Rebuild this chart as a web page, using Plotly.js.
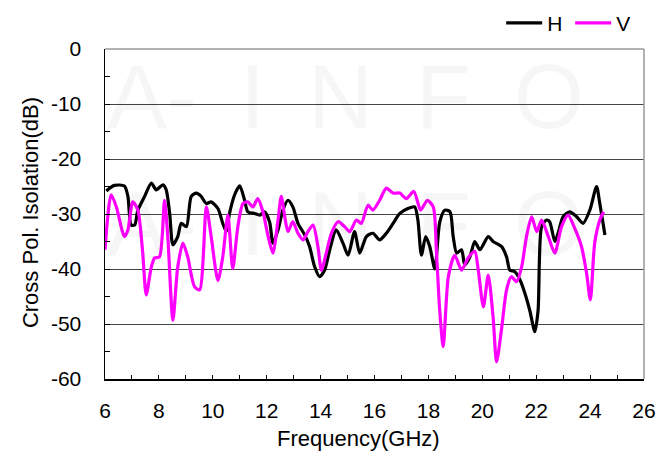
<!DOCTYPE html>
<html>
<head>
<meta charset="utf-8">
<script src="https://cdn.plot.ly/plotly-3.0.1.min.js"></script>
<style>html,body{margin:0;padding:0;background:#fff;}#chart{width:657px;height:457px;}</style>
</head>
<body>
<div id="chart"></div>
<script>
// H polarisation (black)
var hFreq = [6.05,6.35,6.72,6.85,6.97,7.1,7.22,7.47,7.72,7.9,8.15,8.27,8.4,8.52,8.7,8.83,9.02,9.2,9.39,9.57,9.76,9.94,10.19,10.37,10.5,10.62,10.81,11.0,11.18,11.3,11.55,11.74,11.92,12.11,12.23,12.42,12.6,12.79,12.97,13.16,13.41,13.59,13.78,13.96,14.15,14.34,14.58,14.83,15.02,15.26,15.45,15.7,15.94,16.19,16.44,16.69,16.94,17.24,17.49,17.61,17.74,17.9,18.05,18.24,18.42,18.61,18.8,18.92,19.05,19.23,19.35,19.54,19.72,19.91,20.22,20.4,20.71,20.9,21.02,21.21,21.4,21.58,21.76,21.95,22.07,22.2,22.38,22.5,22.69,22.81,23.0,23.25,23.5,23.74,23.99,24.24,24.36,24.55];
var hIso = [-25.8,-24.8,-24.9,-26.8,-32,-32,-29.3,-26.8,-24.4,-25.6,-24.7,-25.6,-29.9,-35.6,-34.1,-31.7,-32.3,-26.8,-26.2,-26.8,-28.1,-27.8,-29,-31.7,-33.2,-29.9,-26.5,-24.9,-27.5,-29.6,-29.9,-30.2,-29.6,-31.5,-35.3,-32.9,-29.3,-27.5,-28.7,-31.7,-33.8,-35.9,-39.6,-41.4,-40.2,-36.5,-32.9,-35.3,-37.5,-33.2,-37.1,-34.1,-33.5,-34.7,-33.5,-31.7,-29.9,-29,-28.7,-31.1,-37.5,-34.1,-35.9,-40,-31.5,-29.3,-29.6,-34.1,-37.1,-36.5,-39.3,-37.8,-35,-36.5,-34.1,-35,-35.9,-37.8,-40.2,-40.5,-42,-44.4,-47.5,-51.4,-47.5,-32.3,-31.1,-31.4,-35,-33.5,-30.5,-29.6,-30.5,-31.7,-29.3,-25,-28.1,-33.8];
// V polarisation (magenta)
var vFreq = [6.0,6.23,6.42,6.72,6.85,7.03,7.22,7.4,7.53,7.72,7.84,8.02,8.21,8.33,8.52,8.7,8.89,9.07,9.32,9.51,9.76,9.94,10.19,10.37,10.56,10.74,10.93,11.12,11.3,11.49,11.67,11.86,12.05,12.23,12.42,12.54,12.67,12.79,12.97,13.16,13.35,13.53,13.72,13.9,14.03,14.21,14.4,14.65,14.89,15.08,15.33,15.51,15.76,15.94,16.19,16.44,16.69,16.94,17.18,17.46,17.71,17.96,18.18,18.3,18.42,18.55,18.74,18.98,19.23,19.47,19.72,19.85,20.04,20.22,20.4,20.53,20.71,20.9,21.08,21.27,21.46,21.64,21.83,22.02,22.2,22.45,22.69,22.94,23.18,23.43,23.68,23.87,24.01,24.17,24.36,24.5];
var vIso = [-36.5,-26.5,-28.7,-34.1,-32.9,-27.8,-29.3,-37.1,-44.7,-39.6,-38,-37.8,-27.5,-34.1,-49.3,-39.6,-35.3,-37.8,-43.2,-43.8,-28.7,-34.1,-42.1,-37.8,-30.2,-39.9,-32.3,-28.1,-27.8,-28.7,-27.2,-29.6,-34,-37.1,-31.1,-26.8,-30.5,-33.2,-31.4,-33.5,-34.7,-33.2,-32,-35.9,-40.2,-37.1,-33.5,-31.4,-32.3,-33.2,-31.1,-31.7,-28.4,-29.3,-27.5,-25.3,-26.2,-26.2,-27.2,-25.9,-29.3,-27.5,-28.7,-37.1,-47.5,-54.1,-41.4,-37.5,-40.2,-38,-36.8,-40.2,-46.9,-41.1,-48.7,-56.9,-51.1,-43.8,-41.4,-42.3,-39.6,-34.1,-30.5,-33.2,-31.1,-34.1,-37.1,-32.3,-30.2,-32.6,-35.9,-40.8,-45.6,-35.3,-31.1,-29.6];

var seriesNames = ['H', 'V'];
var yTickVals = [0, -10, -20, -30, -40, -50, -60];
var yTickText = ['0', '-10', '-20', '-30', '-40', '-50', '-60'];
var xTitle = 'Frequency(GHz)';
var yTitle = 'Cross Pol. Isolation(dB)';
var watermark = 'A-\u00a0\u2009I\u00a0\u2009N\u00a0\u2009F\u00a0\u2009O';

var FONT = 'Liberation Sans, Arial, sans-serif';

var traces = [
  {x: hFreq, y: hIso, name: seriesNames[0], type: 'scatter', mode: 'lines',
   line: {color: '#000000', width: 3.2, shape: 'spline', smoothing: 0.7}},
  {x: vFreq, y: vIso, name: seriesNames[1], type: 'scatter', mode: 'lines',
   line: {color: '#ff00ff', width: 3.2, shape: 'spline', smoothing: 0.7}}
];

var wmRows = [0.855, 0.47];
var annotations = [
  {text: xTitle, xref: 'paper', yref: 'paper', x: 0.47, y: -0.179, showarrow: false,
   xanchor: 'center', yanchor: 'middle', font: {family: FONT, size: 22, color: '#000'}},
  {text: yTitle, xref: 'paper', yref: 'paper', x: -0.139, y: 0.503, showarrow: false,
   textangle: -90, xanchor: 'center', yanchor: 'middle', font: {family: FONT, size: 22, color: '#000'}}
];
wmRows.forEach(function (r) {
  annotations.push({text: watermark, xref: 'paper', yref: 'paper', x: 0.0, y: r, showarrow: false,
    xanchor: 'left', yanchor: 'middle',
    font: {family: FONT, size: 90, color: 'rgba(0,0,0,0.035)'}});
});

var layout = {
  width: 657, height: 457,
  margin: {l: 105, r: 13, t: 49, b: 78, autoexpand: false},
  paper_bgcolor: '#ffffff', plot_bgcolor: '#ffffff',
  font: {family: FONT, size: 21, color: '#000'},
  showlegend: true,
  legend: {orientation: 'h', x: 0.735, xanchor: 'left', y: 1.078, yanchor: 'middle',
           font: {family: FONT, size: 21, color: '#000'}, bgcolor: 'rgba(0,0,0,0)',
           itemwidth: 36, entrywidth: 18, entrywidthmode: 'pixels'},
  xaxis: {range: [6, 26], tick0: 6, dtick: 2, showgrid: false, zeroline: false,
          showline: true, linecolor: '#000', linewidth: 1.5,
          ticks: 'inside', ticklen: 4, tickwidth: 1, tickcolor: '#000', ticklabelstandoff: 12,
          minor: {dtick: 1, ticks: 'inside', ticklen: 4, tickcolor: '#000', showgrid: false},
          tickfont: {family: FONT, size: 21, color: '#000'}},
  yaxis: {range: [-60, 0], tickmode: 'array', tickvals: yTickVals, ticktext: yTickText,
          showgrid: true, gridcolor: '#444', gridwidth: 1,
          zeroline: false, showline: true, linecolor: '#000', linewidth: 1.5,
          ticks: 'inside', ticklen: 5, tickwidth: 1, tickcolor: '#000', ticklabelstandoff: 18,
          minor: {dtick: 5, ticks: 'inside', ticklen: 5, tickcolor: '#000', showgrid: false},
          tickfont: {family: FONT, size: 21, color: '#000'}},
  shapes: [
    {type: 'line', xref: 'paper', yref: 'paper', x0: 0, x1: 1, y0: 1, y1: 1, line: {color: '#999', width: 1.5}},
    {type: 'line', xref: 'paper', yref: 'paper', x0: 1, x1: 1, y0: 0, y1: 1, line: {color: '#999', width: 1.5}}
  ],
  annotations: annotations
};

Plotly.newPlot('chart', traces, layout, {displayModeBar: false, staticPlot: true});
</script>
</body>
</html>
